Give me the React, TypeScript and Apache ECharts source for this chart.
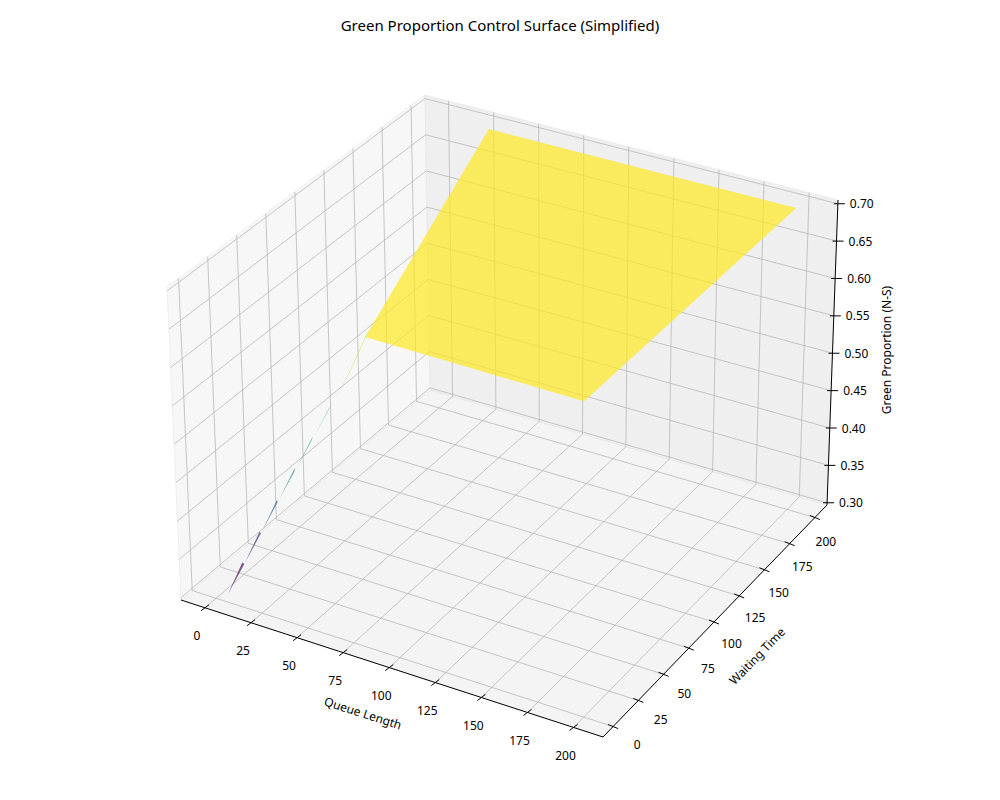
import { useEffect, useRef } from "react";
import * as echarts from "echarts";

// ticks
const queueTicks = [0, 25, 50, 75, 100, 125, 150, 175, 200];
const waitTicks = [0, 25, 50, 75, 100, 125, 150, 175, 200];
const greenTicks = [0.3, 0.35, 0.4, 0.45, 0.5, 0.55, 0.6, 0.65, 0.7];

// flat saturated part of the surface (corners)
const planeQueue = [85, 200, 200, 30];
const planeWait = [0, 0, 200, 200];
const planeGreen = [0.7, 0.7, 0.7, 0.7];

// thin ramp rising from the origin
const rampQueue = [4, 14, 24, 34, 44, 54, 64, 74, 85];
const rampGreen = [0.3, 0.348, 0.396, 0.445, 0.493, 0.541, 0.589, 0.637, 0.7];
const rampBase = [4, 3.5, 3, 2.5, 2, 1.5, 1, 0.5, 0];
const rampWait = [4, 4.2, 4.4, 4.6, 4.8, 5, 5.2, 5.4, 5.6];

// axis limits (with mpl3d padding)
const Q0 = -13, Q1 = 216;
const W0 = -10, W1 = 212;
const Z0 = 0.297, Z1 = 0.705;

// box corners on screen: floor and top
const F = { a: [181, 600], b: [603, 737], c: [827, 505], d: [430, 390] };
const T = { a: [167, 287], b: [604, 416], c: [838, 200], d: [425, 95] };

const FONT = "Noto Sans, DejaVu Sans, sans-serif";

function bil(C: any, u: number, v: number) {
  const k = [(1 - u) * (1 - v), u * (1 - v), u * v, (1 - u) * v];
  return [
    C.a[0] * k[0] + C.b[0] * k[1] + C.c[0] * k[2] + C.d[0] * k[3],
    C.a[1] * k[0] + C.b[1] * k[1] + C.c[1] * k[2] + C.d[1] * k[3],
  ];
}

function proj(q: number, w: number, z: number) {
  const u = (q - Q0) / (Q1 - Q0);
  const v = (w - W0) / (W1 - W0);
  const t = (z - Z0) / (Z1 - Z0);
  const f = bil(F, u, v);
  const p = bil(T, u, v);
  return [f[0] + (p[0] - f[0]) * t, f[1] + (p[1] - f[1]) * t];
}

const viridis = ["#440154", "#3b528b", "#21918c", "#5ec962", "#fde725"];
function viridisAt(z: number) {
  const t = Math.max(0, Math.min(1, (z - 0.3) / 0.4)) * 4;
  const i = Math.min(3, Math.floor(t));
  const f = t - i;
  const h = (s: string) => [1, 3, 5].map((j) => parseInt(s.slice(j, j + 2), 16));
  const a = h(viridis[i]), b = h(viridis[i + 1]);
  return `rgb(${a.map((x, j) => Math.round(x + (b[j] - x) * f)).join(",")})`;
}

export default function App() {
  const ref = useRef<HTMLDivElement>(null);

  useEffect(() => {
    document.body.style.margin = "0";
    if (!ref.current) return;
    const chart = echarts.init(ref.current, null, { renderer: "svg" });

    const renderItem = (_params: any, api: any) => {
      const P = (q: number, w: number, z: number) => api.coord(proj(q, w, z));
      const children: any[] = [];
      const line = (a: number[], b: number[], color: string, width: number) =>
        children.push({ type: "line", shape: { x1: a[0], y1: a[1], x2: b[0], y2: b[1] }, style: { stroke: color, lineWidth: width } });
      const poly = (pts: number[][], fill: string, stroke = "none", opacity = 1) =>
        children.push({ type: "polygon", shape: { points: pts }, style: { fill, stroke, lineWidth: 0.6, opacity } });
      const text = (p: number[], s: string, extra: any = {}) =>
        children.push({
          type: "text", x: p[0], y: p[1], rotation: extra.rotation || 0,
          style: { text: s, fill: "#000", fontSize: extra.size || 12, fontFamily: FONT, align: extra.align || "center", verticalAlign: "middle" },
        });

      // panes
      poly([P(Q0, W0, Z0), P(Q1, W0, Z0), P(Q1, W1, Z0), P(Q0, W1, Z0)], "#f4f4f4", "#e6e6e6");
      poly([P(Q0, W0, Z0), P(Q0, W1, Z0), P(Q0, W1, Z1), P(Q0, W0, Z1)], "#f7f7f7", "#e6e6e6");
      poly([P(Q0, W1, Z0), P(Q1, W1, Z0), P(Q1, W1, Z1), P(Q0, W1, Z1)], "#efefef", "#e6e6e6");

      const gc = "#b8b8b8";
      queueTicks.forEach((q) => {
        line(P(q, W0, Z0), P(q, W1, Z0), gc, 0.8);
        line(P(q, W1, Z0), P(q, W1, Z1), gc, 0.8);
      });
      waitTicks.forEach((w) => {
        line(P(Q0, w, Z0), P(Q1, w, Z0), gc, 0.8);
        line(P(Q0, w, Z0), P(Q0, w, Z1), gc, 0.8);
      });
      greenTicks.forEach((z) => {
        line(P(Q0, W0, z), P(Q0, W1, z), gc, 0.8);
        line(P(Q0, W1, z), P(Q1, W1, z), gc, 0.8);
      });

      // axis lines
      line(P(Q0, W0, Z0), P(Q1, W0, Z0), "#000", 1);
      line(P(Q1, W0, Z0), P(Q1, W1, Z0), "#000", 1);
      line(P(Q1, W1, Z0), P(Q1, W1, Z1), "#000", 1);

      queueTicks.forEach((q) => {
        const p = P(q, W0, Z0);
        line([p[0] - 4, p[1] + 3], [p[0] + 4, p[1] - 3], "#000", 1);
        text([p[0] - 8, p[1] + 28], String(q));
      });
      waitTicks.forEach((w, i) => {
        const p = P(Q1, w, Z0);
        const f = i / (waitTicks.length - 1);
        line([p[0] + 5, p[1] + 2], [p[0] - 5, p[1] - 2], "#000", 1);
        text([p[0] + 24 - 13 * f, p[1] + 18 + 6 * f], String(w));
      });
      greenTicks.forEach((z) => {
        const p = P(Q1, W1, z);
        line([p[0] - 4, p[1]], [p[0] + 7, p[1]], "#000", 1);
        text([p[0] + 12, p[1]], z.toFixed(2), { align: "left" });
      });

      text([363, 713], "Queue Length", { rotation: -0.31 });
      text([757, 656], "Waiting Time", { rotation: 0.8 });
      text([886, 350], "Green Proportion (N-S)", { rotation: Math.PI / 2 });

      // surface: ramp then plane
      for (let i = 0; i < rampQueue.length - 1; i++) {
        const zm = (rampGreen[i] + rampGreen[i + 1]) / 2;
        poly(
          [
            P(rampQueue[i], rampBase[i], rampGreen[i]),
            P(rampQueue[i + 1], rampBase[i + 1], rampGreen[i + 1]),
            P(rampQueue[i + 1] - 1.5, rampWait[i + 1], rampGreen[i + 1]),
            P(rampQueue[i] - 1.5 * (i / 8), rampWait[i] - (i === 0 ? 0 : 0), rampGreen[i]),
          ],
          viridisAt(zm), "none", 0.7
        );
      }
      poly(planeQueue.map((q, i) => P(q, planeWait[i], planeGreen[i])), viridisAt(0.7), "none", 0.72);

      return { type: "group", children };
    };

    chart.setOption({
      animation: false,
      title: {
        text: "Green Proportion Control Surface (Simplified)",
        left: "center", top: 12,
        textStyle: { fontSize: 15, fontWeight: "normal", color: "#000", fontFamily: FONT },
      },
      grid: { left: 0, right: 0, top: 0, bottom: 0 },
      xAxis: { type: "value", min: 0, max: 1000, show: false },
      yAxis: { type: "value", min: 0, max: 800, inverse: true, show: false },
      series: [{ type: "custom", data: [[0, 0]], renderItem, silent: true }],
    });
    return () => chart.dispose();
  }, []);

  return <div ref={ref} style={{ width: 1000, height: 800, background: "#fff" }} />;
}
